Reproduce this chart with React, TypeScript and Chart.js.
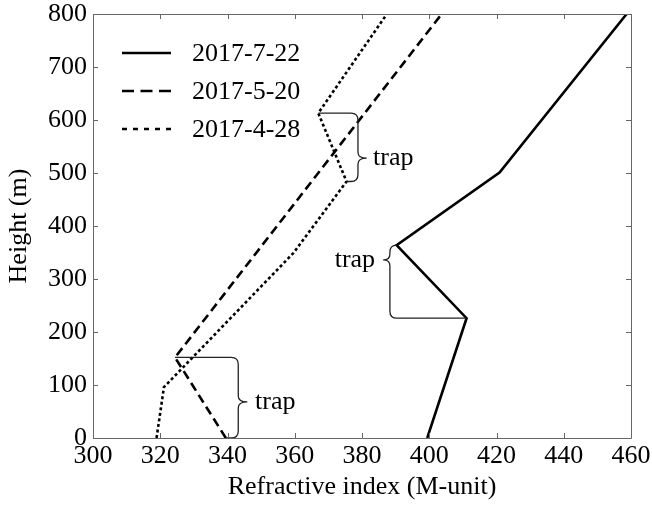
import React, { useEffect, useRef } from 'react';
import { Chart, registerables } from 'chart.js';

Chart.register(...registerables);

// Modified refractivity profiles: M-unit against height
const series1Label = '2017-7-22';
const series1M = [399.4, 411.1, 390.3, 420.9, 458.7];
const series1H = [0, 226, 364, 501, 800];

const series2Label = '2017-5-20';
const series2M = [339.5, 324.4, 403.7];
const series2H = [0, 152, 800];

const series3Label = '2017-4-28';
const series3M = [318.9, 321.1, 359.6, 375.4, 367.0, 387.4];
const series3H = [0, 96, 349, 484, 613, 800];

const xTickValues = [300, 320, 340, 360, 380, 400, 420, 440, 460];
const yTickValues = [0, 100, 200, 300, 400, 500, 600, 700, 800];

const xTitle = 'Refractive index (M-unit)';
const yTitle = 'Height (m)';
const trapText = 'trap';

// Trapping layers: braces joining the top and bottom vertex of each inversion
// (dataset index, top point index, bottom point index, brace / tip M, tip height)
const trapDataset = [2, 1, 0];
const trapTopIdx = [4, 1, 2];
const trapBottomIdx = [3, 0, 1];
const trapBraceM = [378.8, 343.2, 388.3];
const trapTipM = [381.4, 345.9, 386.3];
const trapTipH = [528, 68, 336];
const trapTextM = [383.3, 348.2, 383.9];
const trapSide = [1, 1, -1];

const FONT_FAMILY = '"Liberation Serif", "DejaVu Serif", serif';
const FONT_SIZE = 26;

const toPoints = (m: number[], h: number[]) => m.map((v, i) => ({ x: v, y: h[i] }));

const framePlugin = {
  id: 'frameAndTicks',
  afterDraw(chart: any) {
    const { ctx, chartArea } = chart;
    const { left, right, top, bottom } = chartArea;
    const xs = chart.scales.x;
    const ys = chart.scales.y;
    const tickLen = 5;
    ctx.save();
    ctx.strokeStyle = '#666';
    ctx.lineWidth = 1;
    ctx.beginPath();
    ctx.rect(Math.round(left) + 0.5, Math.round(top) + 0.5, Math.round(right - left), Math.round(bottom - top));
    ctx.stroke();
    ctx.beginPath();
    xs.ticks.forEach((t: any) => {
      const px = Math.round(xs.getPixelForValue(t.value)) + 0.5;
      ctx.moveTo(px, bottom);
      ctx.lineTo(px, bottom - tickLen);
      ctx.moveTo(px, top);
      ctx.lineTo(px, top + tickLen);
    });
    ys.ticks.forEach((t: any) => {
      const py = Math.round(ys.getPixelForValue(t.value)) + 0.5;
      ctx.moveTo(left, py);
      ctx.lineTo(left + tickLen, py);
      ctx.moveTo(right, py);
      ctx.lineTo(right - tickLen, py);
    });
    ctx.stroke();
    ctx.restore();
  },
};

const bracePlugin = {
  id: 'trapBraces',
  afterDatasetsDraw(chart: any) {
    const { ctx } = chart;
    const xs = chart.scales.x;
    const ys = chart.scales.y;
    ctx.save();
    ctx.strokeStyle = '#222';
    ctx.lineWidth = 1.3;
    ctx.fillStyle = '#000';
    ctx.font = `${FONT_SIZE}px ${FONT_FAMILY}`;
    ctx.textBaseline = 'middle';
    trapDataset.forEach((di, k) => {
      const data = chart.data.datasets[di].data;
      const topPt = data[trapTopIdx[k]];
      const botPt = data[trapBottomIdx[k]];
      const dir = trapSide[k];
      const r = 7;
      const tx = xs.getPixelForValue(topPt.x);
      const ty = ys.getPixelForValue(topPt.y);
      const bx = xs.getPixelForValue(botPt.x);
      const by = ys.getPixelForValue(botPt.y);
      const cx = xs.getPixelForValue(trapBraceM[k]);
      const tipX = xs.getPixelForValue(trapTipM[k]);
      const tipY = ys.getPixelForValue(trapTipH[k]);
      const rt = Math.min(r, Math.abs(cx - tx));
      const rb = Math.min(r, Math.abs(cx - bx));
      ctx.beginPath();
      ctx.moveTo(tx, ty);
      ctx.lineTo(cx - dir * rt, ty);
      ctx.quadraticCurveTo(cx, ty, cx, ty + r);
      ctx.lineTo(cx, tipY - 6);
      ctx.quadraticCurveTo(cx, tipY, tipX, tipY);
      ctx.quadraticCurveTo(cx, tipY, cx, tipY + 6);
      ctx.lineTo(cx, by - r);
      ctx.quadraticCurveTo(cx, by, cx - dir * rb, by);
      ctx.lineTo(bx, by);
      ctx.stroke();
      ctx.textAlign = dir > 0 ? 'left' : 'right';
      ctx.fillText(trapText, xs.getPixelForValue(trapTextM[k]), tipY);
    });
    ctx.restore();
  },
};

const legendPlugin = {
  id: 'lineLegend',
  afterDraw(chart: any) {
    const { ctx } = chart;
    const x0 = 122;
    const x1 = 171;
    const textX = 192;
    const rows = [53, 91, 129];
    ctx.save();
    ctx.font = `${FONT_SIZE}px ${FONT_FAMILY}`;
    ctx.textBaseline = 'middle';
    ctx.textAlign = 'left';
    ctx.fillStyle = '#000';
    chart.data.datasets.forEach((ds: any, i: number) => {
      const y = rows[i];
      ctx.strokeStyle = ds.borderColor;
      ctx.lineWidth = ds.borderWidth;
      ctx.setLineDash(ds.legendDash || []);
      ctx.beginPath();
      ctx.moveTo(x0, y);
      ctx.lineTo(x1, y);
      ctx.stroke();
      ctx.setLineDash([]);
      ctx.fillText(ds.label, textX, y + 1);
    });
    ctx.restore();
  },
};

export default function App() {
  const canvasRef = useRef<HTMLCanvasElement | null>(null);

  useEffect(() => {
    if (!canvasRef.current) return;
    const font = { family: FONT_FAMILY, size: FONT_SIZE, lineHeight: 1 };
    const chart = new Chart(canvasRef.current, {
      type: 'line',
      data: {
        datasets: [
          {
            label: series1Label,
            data: toPoints(series1M, series1H),
            borderColor: '#000',
            borderWidth: 2.6,
            borderDash: [],
            legendDash: [],
            pointRadius: 0,
            tension: 0,
          },
          {
            label: series2Label,
            data: toPoints(series2M, series2H),
            borderColor: '#000',
            borderWidth: 2.6,
            borderDash: [9, 5],
            legendDash: [12, 6.5],
            pointRadius: 0,
            tension: 0,
          },
          {
            label: series3Label,
            data: toPoints(series3M, series3H),
            borderColor: '#000',
            borderWidth: 2.6,
            borderDash: [3, 2.6],
            legendDash: [5, 6],
            pointRadius: 0,
            tension: 0,
          },
        ],
      },
      options: {
        animation: false,
        responsive: false,
        devicePixelRatio: 1,
        parsing: false,
        layout: { padding: { top: 14, right: 21, left: 0, bottom: 0 } },
        plugins: { legend: { display: false }, tooltip: { enabled: false }, title: { display: false } },
        scales: {
          x: {
            type: 'linear',
            min: 300,
            max: 460,
            afterBuildTicks: (s: any) => {
              s.ticks = xTickValues.map((v) => ({ value: v }));
            },
            afterFit: (s: any) => {
              s.height = 67;
              s.paddingLeft = 0;
              s.paddingRight = 0;
            },
            grid: { display: false, drawTicks: false },
            border: { display: false },
            ticks: { font, color: '#000', padding: 5, maxRotation: 0 },
            title: { display: true, text: xTitle, font: { family: FONT_FAMILY, size: FONT_SIZE }, color: '#000', padding: 2 },
          },
          y: {
            type: 'linear',
            min: 0,
            max: 800,
            afterBuildTicks: (s: any) => {
              s.ticks = yTickValues.map((v) => ({ value: v }));
            },
            afterFit: (s: any) => {
              s.width = 93;
              s.paddingTop = 0;
              s.paddingBottom = 0;
            },
            grid: { display: false, drawTicks: false },
            border: { display: false },
            ticks: { font, color: '#000', padding: 6 },
            title: { display: true, text: yTitle, font: { family: FONT_FAMILY, size: FONT_SIZE }, color: '#000', padding: 4 },
          },
        },
      },
      plugins: [framePlugin, bracePlugin, legendPlugin],
    } as any);
    return () => chart.destroy();
  }, []);

  return (
    <div style={{ position: 'fixed', left: 0, top: 0, width: 652, height: 505, background: '#fff' }}>
      <canvas ref={canvasRef} width={652} height={505} style={{ display: 'block' }} />
    </div>
  );
}
